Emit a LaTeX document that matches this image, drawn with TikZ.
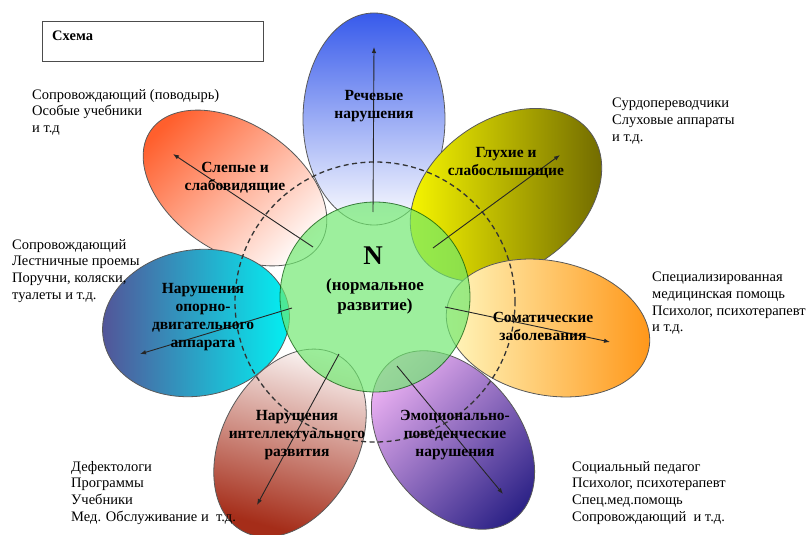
\documentclass[tikz,border=0pt]{standalone}
\usepackage{fontspec}
\setmainfont{Liberation Serif}
\usetikzlibrary{arrows.meta, shapes.geometric}

\definecolor{speechtop}{RGB}{55,90,235}
\definecolor{deafleft}{RGB}{255,255,0}
\definecolor{deafright}{RGB}{105,98,0}
\definecolor{somaleft}{RGB}{255,250,195}
\definecolor{somaright}{RGB}{255,148,20}
\definecolor{emottop}{RGB}{240,180,245}
\definecolor{emotbottom}{RGB}{45,35,135}
\definecolor{inteltop}{RGB}{255,255,255}
\definecolor{intelbottom}{RGB}{165,45,25}
\definecolor{motorleft}{RGB}{85,80,150}
\definecolor{motorright}{RGB}{0,245,245}
\definecolor{blindtop}{RGB}{255,95,45}
\definecolor{normgreen}{RGB}{110,232,110}

\begin{document}
\begin{tikzpicture}[
  x=1pt, y=-1pt,
  petal/.style={ellipse, draw=black!65, line width=0.8pt, inner sep=0pt},
  lbl/.style={align=center, inner sep=0pt, font=\bfseries\fontsize{15.5}{18}\selectfont},
  note/.style={align=left, anchor=north west, inner sep=0pt, font=\fontsize{14.5}{16.7}\selectfont},
  arr/.style={-{Latex[length=6pt, width=4.5pt]}, draw=black!85, line width=0.9pt}
]
\useasboundingbox (0,0) rectangle (812,535);

% header box
\node[draw=black!70, line width=1pt, anchor=north west, minimum width=221pt, minimum height=40pt] (schema) at (42,21) {};
\node[anchor=west, inner sep=0pt, font=\bfseries\fontsize{14.5}{17}\selectfont] (schematitle) at ([xshift=10pt, yshift=-15pt]schema.north west) {Схема};

% petals
\node[petal, minimum width=142pt, minimum height=212pt, top color=speechtop, bottom color=white] (speech) at (374,119) {};
\node[petal, minimum width=204pt, minimum height=128pt, rotate=-34, top color=blindtop, bottom color=white, shading angle=45] (blind) at (235,188) {};
\node[petal, minimum width=210pt, minimum height=150pt, rotate=36, top color=deafleft, bottom color=deafright, shading angle=90] (deaf) at (506,195) {};
\node[petal, minimum width=206pt, minimum height=134pt, rotate=-12, top color=somaleft, bottom color=somaright, shading angle=90] (soma) at (548,328) {};
\node[petal, minimum width=188pt, minimum height=146pt, rotate=10, top color=motorleft, bottom color=motorright, shading angle=90] (motor) at (196,323) {};
\node[petal, minimum width=200pt, minimum height=136pt, rotate=-52, top color=emottop, bottom color=emotbottom, shading angle=45] (emot) at (453,440) {};
\node[petal, minimum width=200pt, minimum height=136pt, rotate=62, top color=inteltop, bottom color=intelbottom, shading angle=-15] (intel) at (290,443) {};

% centre and ring
\node[circle, minimum size=190pt, inner sep=0pt, fill=normgreen, fill opacity=0.68, draw=green!30!black, draw opacity=0.7, line width=0.8pt] (norm) at (375,297) {};
\node[circle, minimum size=280pt, inner sep=0pt, draw=black!80, line width=1.3pt, dash pattern=on 5pt off 3.5pt] (ring) at (375,302) {};

% arrow ends
\coordinate (s-speech) at (373,212);
\coordinate (e-speech) at (374,47);
\coordinate (s-deaf) at (433,248);
\coordinate (e-deaf) at (560,155);
\coordinate (s-soma) at (445,307);
\coordinate (e-soma) at (610,342);
\coordinate (s-emot) at (397,366);
\coordinate (e-emot) at (503,494);
\coordinate (s-intel) at (339,354);
\coordinate (e-intel) at (257,505);
\coordinate (s-motor) at (292,308);
\coordinate (e-motor) at (140,354);
\coordinate (s-blind) at (313,247);
\coordinate (e-blind) at (173,154);

\draw[arr] (s-speech) -- (e-speech);
\draw[arr] (s-deaf) -- (e-deaf);
\draw[arr] (s-soma) -- (e-soma);
\draw[arr] (s-emot) -- (e-emot);
\draw[arr] (s-intel) -- (e-intel);
\draw[arr] (s-motor) -- (e-motor);
\draw[arr] (s-blind) -- (e-blind);

% labels
\node[inner sep=0pt, font=\bfseries\fontsize{27}{27}\selectfont] (normN) at (373,256) {N};
\node[lbl, font=\bfseries\fontsize{17}{20}\selectfont] (normtxt) at (375,296) {(нормальное\\развитие)};
\node[lbl] (speechtxt) at (374,106) {Речевые\\нарушения};
\node[lbl] (deaftxt) at (506,163) {Глухие и\\слабослышащие};
\node[lbl] (somatxt) at (543,326) {Соматические\\заболевания};
\node[lbl] (emottxt) at (455,435) {Эмоционально-\\поведенческие\\нарушения};
\node[lbl] (inteltxt) at (297,435) {Нарушения\\интеллектуального\\развития};
\node[lbl] (motortxt) at (203,317) {Нарушения\\опорно-\\двигательного\\аппарата};
\node[lbl] (blindtxt) at (235,178) {Слепые и\\слабовидящие};

% notes
\node[note] (blindnote) at (32,89) {Сопровождающий (поводырь)\\Особые учебники\\и т.д};
\node[note] (deafnote) at (612,98) {Сурдопереводчики\\Слуховые аппараты\\и т.д.};
\node[note] (motornote) at (12,239) {Сопровождающий\\Лестничные проемы\\Поручни, коляски,\\туалеты и т.д.};
\node[note] (somanote) at (652,272) {Специализированная\\медицинская помощь\\Психолог, психотерапевт\\и т.д.};
\node[note] (intelnote) at (71,461) {Дефектологи\\Программы\\Учебники\\Мед. Обслуживание и~~т.д.};
\node[note] (emotnote) at (572,461) {Социальный педагог\\Психолог, психотерапевт\\Спец.мед.помощь\\Сопровождающий~~и т.д.};

\end{tikzpicture}
\end{document}
